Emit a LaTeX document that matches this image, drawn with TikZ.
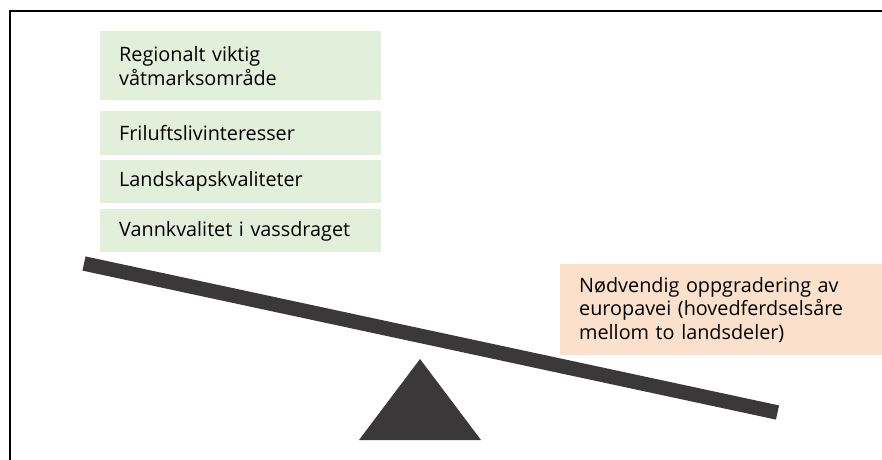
\documentclass[tikz,border=0pt]{standalone}
\usepackage{fontspec}
\setmainfont{Open Sans}
\usetikzlibrary{positioning}
\definecolor{valuegreen}{HTML}{E2EFDA}
\definecolor{needpeach}{HTML}{FBE0CB}
\definecolor{beamgray}{HTML}{3B3839}
\tikzset{
    valuebox/.style={fill=valuegreen, anchor=north west, text width=243pt, inner xsep=19pt, inner ysep=0pt, align=left, font=\fontsize{19.8}{24}\selectfont},
    needbox/.style={fill=needpeach, anchor=north west, text width=284pt, inner xsep=19pt, inner ysep=0pt, minimum height=91pt, align=left, font=\fontsize{19.8}{23.5}\selectfont},
    beam/.style={beamgray, line width=14.5pt},
}
\begin{document}
\begin{tikzpicture}[x=1pt, y=-1pt]
    \useasboundingbox (0,0) rectangle (882,459);
    \draw[line width=2.2pt] (10,460) -- (10,11) -- (883,11);

    \node[valuebox, minimum height=69pt] (v1) at (100,31) {Regionalt viktig\\våtmarksområde};
    \node[valuebox, minimum height=44pt, below=10pt of v1.south west, anchor=north west] (v2) {Friluftslivinteresser};
    \node[valuebox, minimum height=43pt, below=5pt of v2.south west, anchor=north west] (v3) {Landskapskvaliteter};
    \node[valuebox, minimum height=43pt, below=6pt of v3.south west, anchor=north west] (v4) {Vannkvalitet i vassdraget};

    \node[needbox] (road) at (560,264) {Nødvendig oppgradering av\\europavei (hovedferdselsåre\\mellom to landsdeler)};

    \coordinate (beamL) at (84,263.5);
    \coordinate (beamR) at (777.5,412.5);
    \draw[beam] (beamL) -- (beamR);
    \fill[beamgray] (420,359) -- (481,440) -- (359,440) -- cycle;
\end{tikzpicture}
\end{document}
